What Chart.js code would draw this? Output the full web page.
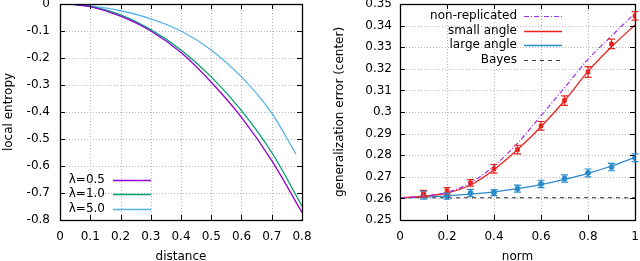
<!DOCTYPE html>
<html>
<head>
<meta charset="utf-8">
<script src="https://cdn.jsdelivr.net/npm/chart.js@4/dist/chart.umd.min.js"></script>
<style>
  html, body { margin: 0; padding: 0; background: #fff; overflow: hidden; width: 640px; height: 261px; }
  canvas { position: absolute; top: -3px; }
  #entropyChart { left: 0; }
  #errorChart { left: 320px; }
</style>
</head>
<body>
<canvas id="entropyChart" width="320" height="272"></canvas>
<canvas id="errorChart" width="320" height="272"></canvas>
<script>
// ---- left panel: local entropy vs distance ----
const distance = [0.03, 0.1, 0.2, 0.3, 0.4, 0.5, 0.6, 0.7, 0.8];
const entropyLam05 = [0, -0.01, -0.045, -0.10, -0.18, -0.29, -0.42, -0.58, -0.772];
const entropyLam10 = [0, -0.009, -0.04, -0.095, -0.17, -0.27, -0.395, -0.55, -0.748];
const distanceLam50 = [0.03, 0.1, 0.2, 0.3, 0.4, 0.5, 0.6, 0.7, 0.78];
const entropyLam50 = [0, -0.007, -0.025, -0.055, -0.10, -0.17, -0.27, -0.404, -0.556];
const distanceTicks = [0, 0.1, 0.2, 0.3, 0.4, 0.5, 0.6, 0.7, 0.8];
const distanceTickLabels = ['0', '0.1', '0.2', '0.3', '0.4', '0.5', '0.6', '0.7', '0.8'];
const entropyTicks = [-0.8, -0.7, -0.6, -0.5, -0.4, -0.3, -0.2, -0.1, 0];
const entropyTickLabels = ['-0.8', '-0.7', '-0.6', '-0.5', '-0.4', '-0.3', '-0.2', '-0.1', '0'];

// ---- right panel: generalization error vs norm ----
const normGrid = [0, 0.1, 0.2, 0.3, 0.4, 0.5, 0.6, 0.7, 0.8, 0.9, 1.0];
const nonReplicated = [0.2603, 0.261, 0.2628, 0.2672, 0.275, 0.2855, 0.2983, 0.3112, 0.3244, 0.3352, 0.3457];
const smallAngleFit = [0.2603, 0.261, 0.2625, 0.2662, 0.2733, 0.2826, 0.2932, 0.3052, 0.3188, 0.3302, 0.3403];
const largeAngleFit = [0.2603, 0.2606, 0.2612, 0.262, 0.263, 0.2645, 0.2664, 0.2688, 0.2716, 0.275, 0.279];
const bayesNorm = [0, 1];
const bayesError = [0.2603, 0.2603];
const sampleNorm = [0.1, 0.2, 0.3, 0.4, 0.5, 0.6, 0.7, 0.8, 0.9, 1.0];
const smallAngleMean = [0.2622, 0.2635, 0.2672, 0.2737, 0.2826, 0.2936, 0.3053, 0.3185, 0.3315, 0.3445];
const smallAngleErr = [0.0015, 0.0015, 0.0015, 0.002, 0.002, 0.002, 0.0022, 0.0025, 0.0022, 0.002];
const largeAngleMean = [0.2615, 0.261, 0.2625, 0.2627, 0.2645, 0.2667, 0.2692, 0.2718, 0.2745, 0.2788];
const largeAngleErr = [0.0018, 0.0014, 0.0017, 0.0014, 0.0016, 0.0017, 0.0017, 0.0018, 0.0017, 0.0018];
const normTicks = [0, 0.2, 0.4, 0.6, 0.8, 1.0];
const normTickLabels = ['0', '0.2', '0.4', '0.6', '0.8', '1'];
const errorTicks = [0.25, 0.26, 0.27, 0.28, 0.29, 0.3, 0.31, 0.32, 0.33, 0.34, 0.35];
const errorTickLabels = ['0.25', '0.26', '0.27', '0.28', '0.29', '0.3', '0.31', '0.32', '0.33', '0.34', '0.35'];

const FONT = { family: "'DejaVu Sans', sans-serif", size: 12 };
Chart.defaults.font = FONT;
Chart.defaults.color = '#000';

const toXY = (xs, ys) => xs.map((x, i) => ({ x: x, y: ys[i] }));

// gnuplot-like look: dotted grid, black frame, inward ticks on every side
const gnuplotFrame = {
  id: 'gnuplotFrame',
  beforeDatasetsDraw(chart) {
    const { ctx, chartArea: a, scales: { x, y } } = chart;
    ctx.save();
    ctx.strokeStyle = '#b4b4b4';
    ctx.lineWidth = 1;
    ctx.setLineDash([1, 2]);
    x.ticks.forEach(t => {
      const px = Math.round(x.getPixelForValue(t.value)) + 0.5;
      if (px <= a.left + 1 || px >= a.right - 1) return;
      ctx.beginPath(); ctx.moveTo(px, a.top); ctx.lineTo(px, a.bottom); ctx.stroke();
    });
    y.ticks.forEach(t => {
      const py = Math.round(y.getPixelForValue(t.value)) + 0.5;
      if (py <= a.top + 1 || py >= a.bottom - 1) return;
      ctx.beginPath(); ctx.moveTo(a.left, py); ctx.lineTo(a.right, py); ctx.stroke();
    });
    ctx.restore();
  },
  afterDatasetsDraw(chart) {
    const { ctx, chartArea: a, scales: { x, y } } = chart;
    const len = 5;
    ctx.save();
    ctx.strokeStyle = '#000';
    ctx.lineWidth = 1;
    ctx.setLineDash([]);
    ctx.beginPath();
    x.ticks.forEach(t => {
      const px = Math.round(x.getPixelForValue(t.value)) + 0.5;
      ctx.moveTo(px, a.bottom); ctx.lineTo(px, a.bottom - len);
      ctx.moveTo(px, a.top); ctx.lineTo(px, a.top + len);
    });
    y.ticks.forEach(t => {
      const py = Math.round(y.getPixelForValue(t.value)) + 0.5;
      ctx.moveTo(a.left, py); ctx.lineTo(a.left + len, py);
      ctx.moveTo(a.right, py); ctx.lineTo(a.right - len, py);
    });
    ctx.stroke();
    ctx.lineWidth = 1.3;
    ctx.strokeRect(Math.round(a.left) + 0.5, Math.round(a.top) + 0.5,
      Math.round(a.right - a.left), Math.round(a.bottom - a.top));
    ctx.restore();
  }
};

// vertical error bars with caps, for datasets that carry an `errors` array
const errorBars = {
  id: 'errorBars',
  afterDatasetsDraw(chart) {
    const { ctx, scales: { x, y } } = chart;
    ctx.save();
    chart.data.datasets.forEach(ds => {
      if (!ds.errors) return;
      ctx.strokeStyle = ds.borderColor;
      ctx.lineWidth = 1.2;
      ds.data.forEach((p, i) => {
        const px = x.getPixelForValue(p.x);
        const top = y.getPixelForValue(p.y + ds.errors[i]);
        const bot = y.getPixelForValue(p.y - ds.errors[i]);
        ctx.beginPath();
        ctx.moveTo(px, top); ctx.lineTo(px, bot);
        ctx.moveTo(px - 3.5, top); ctx.lineTo(px + 3.5, top);
        ctx.moveTo(px - 3.5, bot); ctx.lineTo(px + 3.5, bot);
        ctx.stroke();
      });
    });
    ctx.restore();
  }
};

// gnuplot-style key: right-aligned text, line sample to its right
const gnuKey = {
  id: 'gnuKey',
  afterDraw(chart, args, opts) {
    const { ctx } = chart;
    ctx.save();
    ctx.font = `${FONT.size}px ${FONT.family}`;
    ctx.textAlign = 'right';
    ctx.textBaseline = 'middle';
    let row = 0;
    chart.data.datasets.forEach(ds => {
      if (!ds.keyLabel) return;
      const yy = opts.top + row * opts.step;
      ctx.fillStyle = '#000';
      ctx.fillText(ds.keyLabel, opts.textRight, yy);
      ctx.strokeStyle = ds.borderColor;
      ctx.lineWidth = ds.borderWidth;
      ctx.setLineDash(ds.borderDash || []);
      ctx.beginPath();
      ctx.moveTo(opts.lineStart, Math.round(yy) + 0.5);
      ctx.lineTo(opts.lineEnd, Math.round(yy) + 0.5);
      ctx.stroke();
      row++;
    });
    ctx.restore();
  }
};

function linearAxis(min, max, ticks, labels, title, titlePad, tickPad, size, isY) {
  return {
    type: 'linear',
    min: min,
    max: max,
    afterBuildTicks: s => { s.ticks = ticks.map(v => ({ value: v })); },
    afterFit: s => {
      if (isY) s.width = size; else s.height = size;
      // labels may overhang the plot like in gnuplot; layout padding decides the plot box
      s.paddingTop = s.paddingBottom = s.paddingLeft = s.paddingRight = 0;
    },
    ticks: { padding: tickPad, autoSkip: false, maxRotation: 0, callback: (v, i) => labels[i] },
    grid: { display: false, drawTicks: false },
    border: { display: false },
    title: { display: true, text: title, font: FONT, padding: titlePad }
  };
}

const lineStyle = { pointRadius: 0, fill: false, cubicInterpolationMode: 'monotone' };

new Chart(document.getElementById('entropyChart'), {
  type: 'line',
  data: {
    datasets: [
      { ...lineStyle, keyLabel: 'λ=0.5', data: toXY(distance, entropyLam05), borderColor: '#9400d3', borderWidth: 1.3 },
      { ...lineStyle, keyLabel: 'λ=1.0', data: toXY(distance, entropyLam10), borderColor: '#009e73', borderWidth: 1.3 },
      { ...lineStyle, keyLabel: 'λ=5.0', data: toXY(distanceLam50, entropyLam50), borderColor: '#56b4e9', borderWidth: 1.3 }
    ]
  },
  options: {
    responsive: false,
    animation: false,
    devicePixelRatio: 1,
    layout: { padding: { left: 0, right: 18, top: 7, bottom: 0 } },
    plugins: {
      legend: { display: false },
      tooltip: { enabled: false },
      gnuKey: { top: 183, step: 14.3, textRight: 105, lineStart: 113, lineEnd: 151 }
    },
    scales: {
      x: linearAxis(0, 0.8, distanceTicks, distanceTickLabels, 'distance', { top: 0, bottom: 5 }, 10, 49, false),
      y: linearAxis(-0.8, 0, entropyTicks, entropyTickLabels, 'local entropy', { top: 2, bottom: 0 }, 10, 60, true)
    }
  },
  plugins: [gnuplotFrame, gnuKey]
});

new Chart(document.getElementById('errorChart'), {
  type: 'line',
  data: {
    datasets: [
      { ...lineStyle, keyLabel: 'non-replicated', data: toXY(normGrid, nonReplicated), borderColor: '#a030e0', borderWidth: 1.2, borderDash: [5, 2, 1, 2] },
      { ...lineStyle, keyLabel: 'small angle', data: toXY(normGrid, smallAngleFit), borderColor: '#e8231c', borderWidth: 1.3 },
      { ...lineStyle, keyLabel: 'large angle', data: toXY(normGrid, largeAngleFit), borderColor: '#2a8acb', borderWidth: 1.3 },
      { ...lineStyle, keyLabel: 'Bayes', data: toXY(bayesNorm, bayesError), borderColor: '#333', borderWidth: 1.2, borderDash: [4, 4] },
      { data: toXY(sampleNorm, smallAngleMean), errors: smallAngleErr, showLine: false, borderColor: '#e8231c', backgroundColor: '#e8231c', pointStyle: 'rect', pointRadius: 2.5 },
      { data: toXY(sampleNorm, largeAngleMean), errors: largeAngleErr, showLine: false, borderColor: '#2a8acb', backgroundColor: '#2a8acb', pointStyle: 'circle', pointRadius: 2.5 }
    ]
  },
  options: {
    responsive: false,
    animation: false,
    devicePixelRatio: 1,
    layout: { padding: { left: 0, right: 5, top: 7, bottom: 0 } },
    plugins: {
      legend: { display: false },
      tooltip: { enabled: false },
      gnuKey: { top: 19, step: 14.6, textRight: 197, lineStart: 204, lineEnd: 242 }
    },
    scales: {
      x: linearAxis(0, 1, normTicks, normTickLabels, 'norm', { top: 0, bottom: 5 }, 10, 49, false),
      y: linearAxis(0.25, 0.35, errorTicks, errorTickLabels, 'generalization error (center)', { top: 13, bottom: 0 }, 8, 80, true)
    }
  },
  plugins: [gnuplotFrame, errorBars, gnuKey]
});
</script>
</body>
</html>
